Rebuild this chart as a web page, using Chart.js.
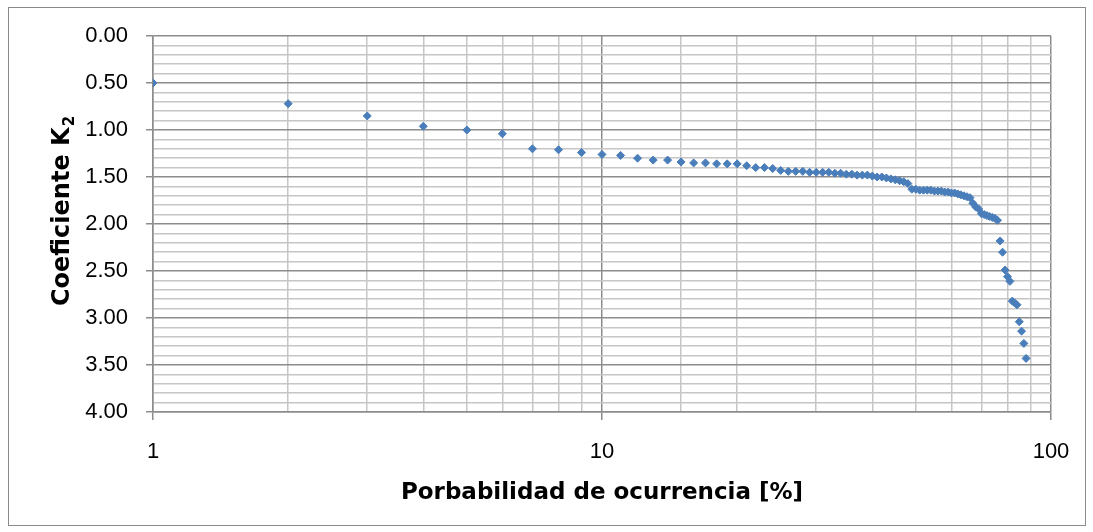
<!DOCTYPE html>
<html>
<head>
<meta charset="utf-8">
<title>Coeficiente K2</title>
<script src="https://cdn.jsdelivr.net/npm/chart.js@4.4.1/dist/chart.umd.min.js"></script>
<style>
    html, body { margin: 0; padding: 0; background: #fff; }
    #wrap { width: 1093px; height: 532px; }
</style>
</head>
<body>
<div id="wrap"><canvas id="k2Chart" width="1093" height="532"></canvas></div>
<script>
// DATA
const probabilidad = [
    1, 2, 3, 4, 5, 6, 7, 8, 9, 10,
    11, 12, 13, 14, 15, 16, 17, 18, 19, 20,
    21, 22, 23, 24, 25, 26, 27, 28, 29, 30,
    31, 32, 33, 34, 35, 36, 37, 38, 39, 40,
    41, 42, 43, 44, 45, 46, 47, 48, 49, 50,
    51, 52, 53, 54, 55, 56, 57, 58, 59, 60,
    61, 62, 63, 64, 65, 66, 67, 68, 69, 70,
    71, 72, 73, 74, 75, 76, 77, 78, 79, 80,
    81, 82, 83, 84, 85, 86, 87, 88
]
const coeficienteK2 = [
    0.50, 0.72, 0.85, 0.96, 1.00, 1.04, 1.20, 1.21, 1.24, 1.26,
    1.27, 1.30, 1.32, 1.32, 1.34, 1.35, 1.35, 1.36, 1.36, 1.36,
    1.38, 1.40, 1.40, 1.41, 1.43, 1.44, 1.44, 1.44, 1.45, 1.45,
    1.45, 1.45, 1.46, 1.46, 1.47, 1.47, 1.48, 1.48, 1.48, 1.49,
    1.50, 1.50, 1.51, 1.52, 1.53, 1.54, 1.55, 1.57, 1.63, 1.63,
    1.64, 1.64, 1.64, 1.64, 1.65, 1.65, 1.65, 1.66, 1.66, 1.67,
    1.67, 1.68, 1.69, 1.70, 1.71, 1.72, 1.78, 1.82, 1.84, 1.89,
    1.90, 1.91, 1.92, 1.93, 1.94, 1.96, 2.18, 2.30, 2.49, 2.56,
    2.61, 2.82, 2.84, 2.86, 3.04, 3.14, 3.27, 3.43
]
const xTickLabels = [1, 10, 100]
const yTickLabels = ['0.00', '0.50', '1.00', '1.50', '2.00', '2.50', '3.00', '3.50', '4.00']

const puntos = probabilidad.map((p, i) => ({ x: p, y: coeficienteK2[i] }))

const GRID_MAJOR = '#8c8c8c'
const GRID_MINOR = '#c6c6c6'
const TICK_FONT = { family: '"Liberation Sans", Arial, sans-serif', size: 22 }

function isDecade(v) {
    return xTickLabels.indexOf(Math.round(v * 1000) / 1000) !== -1
}
function isHalf(v) {
    return Math.abs(v * 2 - Math.round(v * 2)) < 1e-6
}

// fondo blanco + marco exterior
const frame = {
    id: 'frame',
    beforeDraw(chart) {
        const c = chart.ctx
        c.save()
        c.fillStyle = '#fff'
        c.fillRect(0, 0, chart.width, chart.height)
        c.restore()
    },
    afterDraw(chart) {
        const c = chart.ctx
        c.save()
        c.strokeStyle = '#8a8a8a'
        c.lineWidth = 1
        c.strokeRect(8.5, 7.5, 1077, 518)
        c.restore()
    }
}

// titulo del eje Y con subindice
const yTitle = {
    id: 'yTitle',
    afterDraw(chart) {
        const c = chart.ctx
        const mid = (chart.chartArea.top + chart.chartArea.bottom) / 2 - 13
        const mainFont = 'bold 24px "DejaVu Sans", sans-serif'
        const subFont = 'bold 15px "DejaVu Sans", sans-serif'
        c.save()
        c.font = mainFont
        const w1 = c.measureText('Coeficiente K').width
        c.font = subFont
        const w2 = c.measureText('2').width
        const total = w1 + 1 + w2
        c.translate(69, mid)
        c.rotate(-Math.PI / 2)
        c.fillStyle = '#000'
        c.textBaseline = 'alphabetic'
        c.textAlign = 'left'
        c.font = mainFont
        c.fillText('Coeficiente K', -total / 2, 0)
        c.font = subFont
        c.fillText('2', -total / 2 + w1 + 1, 5)
        c.restore()
    }
}

const ctx = document.getElementById('k2Chart').getContext('2d')
const k2Chart = new Chart(ctx, {
    type: 'scatter',
    data: {
        datasets: [{
            label: 'K2',
            data: puntos,
            pointStyle: 'rectRot',
            pointRadius: 4,
            pointHoverRadius: 4,
            backgroundColor: '#4a7ebb',
            borderColor: '#4a7ebb',
            borderWidth: 1
        }]
    },
    options: {
        responsive: false,
        animation: false,
        events: [],
        layout: {
            padding: { top: 36, right: 42, bottom: 0, left: 0 }
        },
        plugins: {
            legend: { display: false },
            tooltip: { enabled: false }
        },
        scales: {
            x: {
                type: 'logarithmic',
                min: 1,
                max: 100,
                afterFit(scale) { scale.height = 120 },
                border: { color: GRID_MAJOR, width: 1.5 },
                grid: {
                    color: c => isDecade(c.tick.value) ? GRID_MAJOR : GRID_MINOR,
                    lineWidth: 1.5,
                    tickColor: c => isDecade(c.tick.value) ? GRID_MAJOR : 'rgba(0,0,0,0)',
                    tickLength: 8
                },
                ticks: {
                    autoSkip: false,
                    maxRotation: 0,
                    padding: 19,
                    color: '#000',
                    font: TICK_FONT,
                    callback: v => isDecade(v) ? String(Math.round(v)) : ''
                },
                title: {
                    display: true,
                    text: 'Porbabilidad de ocurrencia [%]',
                    color: '#000',
                    font: { family: '"DejaVu Sans", sans-serif', size: 23, weight: 'bold' },
                    padding: { top: 0, bottom: 25 }
                }
            },
            y: {
                type: 'linear',
                reverse: true,
                min: 0,
                max: 4,
                afterFit(scale) { scale.width = 153 },
                border: { color: GRID_MAJOR, width: 1.5 },
                grid: {
                    color: c => isHalf(c.tick.value) ? GRID_MAJOR : GRID_MINOR,
                    lineWidth: 1.5,
                    tickColor: c => isHalf(c.tick.value) ? GRID_MAJOR : 'rgba(0,0,0,0)',
                    tickLength: 7
                },
                ticks: {
                    stepSize: 0.1,
                    autoSkip: false,
                    padding: 18,
                    color: '#000',
                    font: TICK_FONT,
                    callback: v => isHalf(v) ? yTickLabels[Math.round(v * 2)] : ''
                }
            }
        }
    },
    plugins: [frame, yTitle]
})
</script>
</body>
</html>
